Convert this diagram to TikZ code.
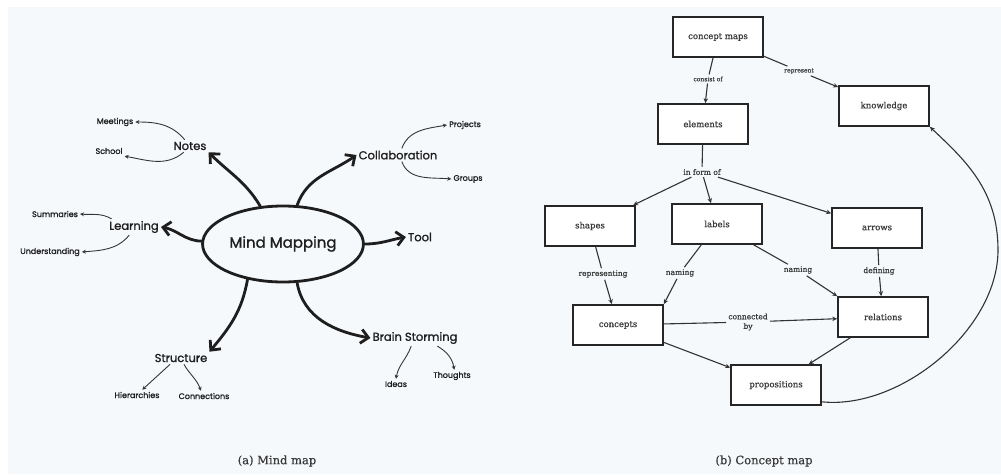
\documentclass[tikz,border=0pt]{standalone}
\usepackage{fontspec}
\setmainfont{DejaVu Serif}
\newfontfamily\mmfont[FakeBold=1.2]{Poppins}
\newfontfamily\cmfont[FakeBold=0.7]{DejaVu Serif}
\usepackage{tikz}
\usetikzlibrary{arrows.meta,positioning,shapes.geometric}
\definecolor{pgBack}{HTML}{F6F9FC}
\definecolor{pgInk}{HTML}{1E1E1E}
\definecolor{pgText}{HTML}{3A3A3A}

\begin{document}
\begin{tikzpicture}[
  on grid,
  mmroot/.style={ellipse, draw=pgInk, line width=2.8pt, minimum width=150pt, minimum height=76pt, font=\mmfont\fontsize{15}{18}\selectfont, text=pgInk},
  mmtopic/.style={font=\mmfont\fontsize{11.5}{13}\selectfont, text=pgInk, inner sep=2pt},
  mmleaf/.style={font=\mmfont\fontsize{8}{10}\selectfont, text=pgInk, inner sep=2pt},
  bigarr/.style={-{Straight Barb[length=7.5pt,width=14pt]}, line width=2.8pt, draw=pgInk, line cap=round},
  smallarr/.style={-{Stealth[length=4pt,width=4pt]}, line width=0.9pt, draw=pgInk!90},
  cbox/.style={draw=black!85, line width=1.6pt, fill=white, minimum width=90pt, minimum height=40pt, font=\cmfont\fontsize{8.5}{10}\selectfont, text=pgText},
  clabel/.style={font=\cmfont\fontsize{7.5}{8}\selectfont, text=pgText, inner sep=2pt, align=center},
  csmall/.style={clabel, font=\cmfont\fontsize{6}{7}\selectfont},
  carr/.style={-{Stealth[length=5pt,width=4.5pt]}, line width=1.1pt, draw=black!80},
  cline/.style={line width=1.1pt, draw=black!80},
  caption/.style={font=\cmfont\fontsize{11.5}{13}\selectfont, text=pgText}
]
  \useasboundingbox (0,0) rectangle (1001pt,-474pt);
  \fill[pgBack] (8pt,-7pt) rectangle (1001pt,-474pt);

  % (a) mind map
  \node[mmroot] (mind) at (283pt,-244pt) {Mind Mapping};
  \node[mmtopic, above left=98pt and 93pt of mind] (notes) {Notes};
  \node[mmleaf, above left=24pt and 75pt of notes] (meetings) {Meetings};
  \node[mmleaf, below left=5pt and 81pt of notes] (school) {School};
  \node[mmtopic, above left=17pt and 149pt of mind] (learning) {Learning};
  \node[mmleaf, above left=13pt and 79pt of learning] (summaries) {Summaries};
  \node[mmleaf, below left=25pt and 84pt of learning] (understanding) {Understanding};
  \node[mmtopic, above right=89pt and 115pt of mind] (collab) {Collaboration};
  \node[mmleaf, above right=30pt and 67pt of collab] (projects) {Projects};
  \node[mmleaf, below right=24pt and 70pt of collab] (groups) {Groups};
  \node[mmtopic, above right=7pt and 137pt of mind] (tool) {Tool};
  \node[mmtopic, below right=94pt and 132pt of mind] (brain) {Brain Storming};
  \node[mmleaf, below left=46pt and 19pt of brain] (ideas) {Ideas};
  \node[mmleaf, below right=38pt and 37pt of brain] (thoughts) {Thoughts};
  \node[mmtopic, below left=114pt and 102pt of mind] (structure) {Structure};
  \node[mmleaf, below left=37pt and 44pt of structure] (hierarchies) {Hierarchies};
  \node[mmleaf, below right=38pt and 23pt of structure] (connections) {Connections};

  \draw[bigarr] (mind) to[out=121, in=-45] (notes.south east);
  \draw[bigarr] (mind) to[out=70, in=215] (collab.west);
  \draw[bigarr] (mind) to[out=0, in=190] (tool.west);
  \draw[bigarr] (mind) to[out=178, in=-10] (learning.east);
  \draw[bigarr] (mind.225) to[out=-100, in=50] (structure.north east);
  \draw[bigarr] (mind.-70) to[out=-80, in=170] (brain.west);

  \draw[smallarr] (notes.130) to[out=130, in=0] (meetings.east);
  \draw[smallarr] (notes.225) to[out=-140, in=-10] (school.south east);
  \draw[smallarr] (learning.160) to[out=150, in=-5] (summaries.east);
  \draw[smallarr] (learning.-120) to[out=-130, in=5] (understanding.east);
  \draw[smallarr] (collab.60) to[out=70, in=190] (projects.west);
  \draw[smallarr] (collab.-60) to[out=-70, in=175] (groups.west);
  \draw[smallarr] (structure.-150) -- (hierarchies.45);
  \draw[smallarr] (structure.-65) to[out=-60, in=110] (connections.120);
  \draw[smallarr] (brain.-115) to[out=-110, in=80] (ideas.north);
  \draw[smallarr] (brain.-20) to[out=-30, in=100] (thoughts.70);

  % (b) concept map
  \node[cbox] (cmaps) at (718pt,-37pt) {concept maps};
  \node[csmall, below left=42pt and 10pt of cmaps] (consist) {consist of};
  \node[cbox, below left=45pt and 5pt of consist] (elements) {elements};
  \node[csmall, below right=34pt and 81pt of cmaps] (represent) {represent};
  \node[cbox, below right=35pt and 85pt of represent] (knowledge) {knowledge};
  \node[clabel, below left=48pt and 1pt of elements] (inform) {in form of};
  \node[cbox, below left=54pt and 112pt of inform] (shapes) {shapes};
  \node[cbox, below right=52pt and 15pt of inform] (labels) {labels};
  \node[cbox, below right=56pt and 175pt of inform] (arrows) {arrows};
  \node[clabel, below right=48pt and 13pt of shapes] (repr) {representing};
  \node[cbox, below right=51pt and 15pt of repr] (concepts) {concepts};
  \node[clabel, below left=49pt and 37pt of labels] (naming1) {naming};
  \node[clabel, below right=46pt and 81pt of labels] (naming2) {naming};
  \node[clabel, below right=43pt and 2pt of arrows] (defining) {defining};
  \node[cbox, below right=46pt and 4pt of defining] (relations) {relations};
  \node[clabel, above right=3pt and 130pt of concepts] (connby) {connected\\[1.5pt]by};
  \node[cbox, below right=60pt and 158pt of concepts] (props) {propositions};

  \draw[cline] (cmaps) -- (consist);
  \draw[carr] (consist) -- (elements);
  \draw[cline] (cmaps) -- (represent);
  \draw[carr] (represent) -- (knowledge);
  \draw[cline] (elements) -- (inform);
  \draw[carr] (inform) -- (shapes);
  \draw[carr] (inform) -- (labels);
  \draw[carr] (inform) -- (arrows);
  \draw[cline] (shapes) -- (repr);
  \draw[carr] (repr) -- (concepts);
  \draw[cline] (labels) -- (naming1);
  \draw[carr] (naming1) -- (concepts.north east);
  \draw[cline] (labels) -- (naming2);
  \draw[carr] (naming2) -- (relations.north west);
  \draw[cline] (arrows) -- (defining);
  \draw[carr] (defining) -- (relations);
  \draw[cline] (concepts) -- (connby);
  \draw[carr] (connby) -- (relations);
  \draw[carr] (concepts) -- (props);
  \draw[carr] (relations) -- (props);
  \draw[carr] ([yshift=4pt]props.south east) .. controls (900pt,-410pt) and (998pt,-330pt) .. (998pt,-250pt)
    .. controls (998pt,-190pt) and (965pt,-160pt) .. (knowledge.south east);

  % captions
  \node[caption] (capa) at (277pt,-461pt) {(a) Mind map};
  \node[caption] (capb) at (764pt,-461pt) {(b) Concept map};
\end{tikzpicture}
\end{document}
